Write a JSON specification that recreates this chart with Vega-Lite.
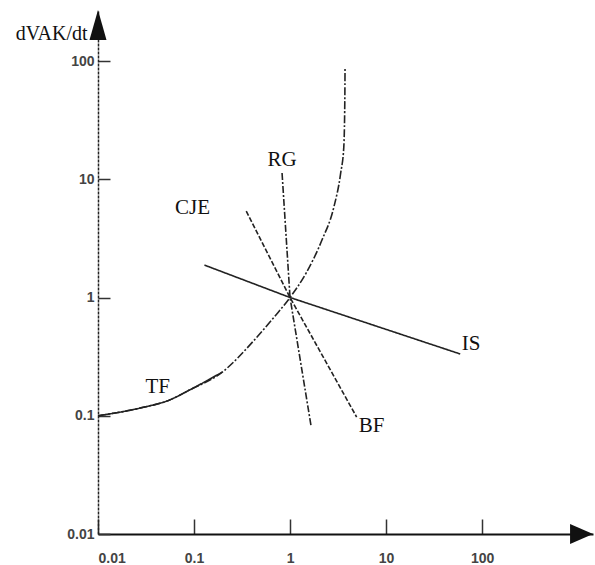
{
  "$schema": "https://vega.github.io/schema/vega-lite/v6.json",
  "width": 495,
  "height": 524,
  "autosize": {"type": "none"},
  "padding": {"left": 98, "top": 10, "right": 2, "bottom": 31},
  "background": "white",
  "config": {"view": {"stroke": null}},
  "datasets": {
    "straight": [
      {"series": "IS", "x": 0.1285, "y": 1.88},
      {"series": "IS", "x": 1, "y": 1},
      {"series": "IS", "x": 59.2, "y": 0.333},
      {"series": "CJE", "x": 0.35, "y": 5.37},
      {"series": "CJE", "x": 1, "y": 1},
      {"series": "CJE", "x": 4.94, "y": 0.0975},
      {"series": "RG", "x": 0.826, "y": 11.3},
      {"series": "RG", "x": 1, "y": 1},
      {"series": "RG", "x": 1.65, "y": 0.0834}
    ],
    "curve": [
      {"series": "TFd", "x": 0.01, "y": 0.1},
      {"series": "TFd", "x": 0.0272, "y": 0.116},
      {"series": "TFd", "x": 0.0557, "y": 0.136},
      {"series": "TFd", "x": 0.0897, "y": 0.165},
      {"series": "TFd", "x": 0.197, "y": 0.234},
      {"series": "TFd", "x": 0.424, "y": 0.436},
      {"series": "TFd", "x": 0.682, "y": 0.682},
      {"series": "TFd", "x": 1, "y": 1},
      {"series": "TFd", "x": 1.47, "y": 1.61},
      {"series": "TFd", "x": 2.15, "y": 3.06},
      {"series": "TFd", "x": 2.86, "y": 5.81},
      {"series": "TFd", "x": 3.37, "y": 11.3},
      {"series": "TFd", "x": 3.63, "y": 18.7},
      {"series": "TFd", "x": 3.72, "y": 46.7},
      {"series": "TFd", "x": 3.74, "y": 88.7},
      {"series": "TFs", "x": 0.01, "y": 0.1},
      {"series": "TFs", "x": 0.0272, "y": 0.116},
      {"series": "TFs", "x": 0.0557, "y": 0.136},
      {"series": "TFs", "x": 0.0897, "y": 0.165},
      {"series": "TFs", "x": 0.197, "y": 0.234}
    ],
    "labels": [
      {"text": "RG", "x": 0.826, "y": 14.5},
      {"text": "CJE", "x": 0.0964, "y": 5.7},
      {"text": "IS", "x": 76.9, "y": 0.404},
      {"text": "BF", "x": 7.08, "y": 0.0818},
      {"text": "TF", "x": 0.0419, "y": 0.175}
    ],
    "arrows": [
      {"dir": "up", "x": 0.01, "y": 270},
      {"dir": "right", "x": 1430, "y": 0.01}
    ]
  },
  "encoding": {
    "x": {"field": "x", "type": "quantitative",
      "scale": {"type": "log", "domain": [0.01, 1430], "nice": false},
      "axis": {"values": [0.01, 0.1, 1, 10, 100], "format": "~g", "grid": false,
        "domainColor": "#111", "domainWidth": 2, "tickColor": "#333", "tickWidth": 1.5,
        "tickSize": -15, "labelPadding": 32, "labelFont": "Liberation Sans", "labelFontSize": 14,
        "labelFontWeight": "bold", "labelColor": "#444", "labelFlush": true, "title": null}},
    "y": {"field": "y", "type": "quantitative",
      "scale": {"type": "log", "domain": [0.01, 270], "nice": false},
      "axis": {"values": [0.01, 0.1, 1, 10, 100], "format": "~g", "grid": false,
        "domainColor": "#222", "domainWidth": 1.5, "domainDash": [3, 1], "tickColor": "#333", "tickWidth": 1.5,
        "tickSize": -12, "labelPadding": 16, "labelFont": "Liberation Sans", "labelFontSize": 14,
        "labelFontWeight": "bold", "labelColor": "#444", "labelFlush": false,
        "title": "dVAK/dt", "titleAngle": 0, "titleX": -11, "titleY": 23, "titleAlign": "right",
        "titleBaseline": "middle", "titleFont": "Liberation Serif", "titleFontSize": 20,
        "titleFontWeight": "normal", "titleColor": "#111"}}
  },
  "layer": [
    {
      "data": {"name": "straight"},
      "mark": {"type": "line", "color": "#222", "strokeWidth": 1.6},
      "encoding": {
        "detail": {"field": "series"},
        "strokeDash": {"field": "series", "type": "nominal",
          "scale": {"domain": ["IS", "CJE", "RG", "TFs", "TFd"], "range": [[1, 0], [5, 2], [7, 2, 2, 2], [1, 0], [8, 2, 2, 2]]}, "legend": null}
      }
    },
    {
      "data": {"name": "curve"},
      "mark": {"type": "line", "color": "#222", "strokeWidth": 1.6, "interpolate": "monotone"},
      "encoding": {
        "detail": {"field": "series"},
        "strokeDash": {"field": "series", "type": "nominal",
          "scale": {"domain": ["IS", "CJE", "RG", "TFs", "TFd"], "range": [[1, 0], [5, 2], [7, 2, 2, 2], [1, 0], [8, 2, 2, 2]]}, "legend": null}
      }
    },
    {
      "data": {"name": "labels"},
      "mark": {"type": "text", "font": "Liberation Serif", "fontSize": 21, "color": "#111"},
      "encoding": {
        "text": {"field": "text"}
      }
    },
    {
      "data": {"name": "arrows"},
      "mark": {"type": "point", "filled": true, "size": 900, "color": "#111", "opacity": 1},
      "encoding": {
        "shape": {"field": "dir", "type": "nominal",
          "scale": {"domain": ["up", "right"], "range": ["M0,0L0.567,2L-0.567,2Z", "M0,0L-1.53,-0.667L-1.53,0.667Z"]}, "legend": null}
      }
    }
  ]
}
